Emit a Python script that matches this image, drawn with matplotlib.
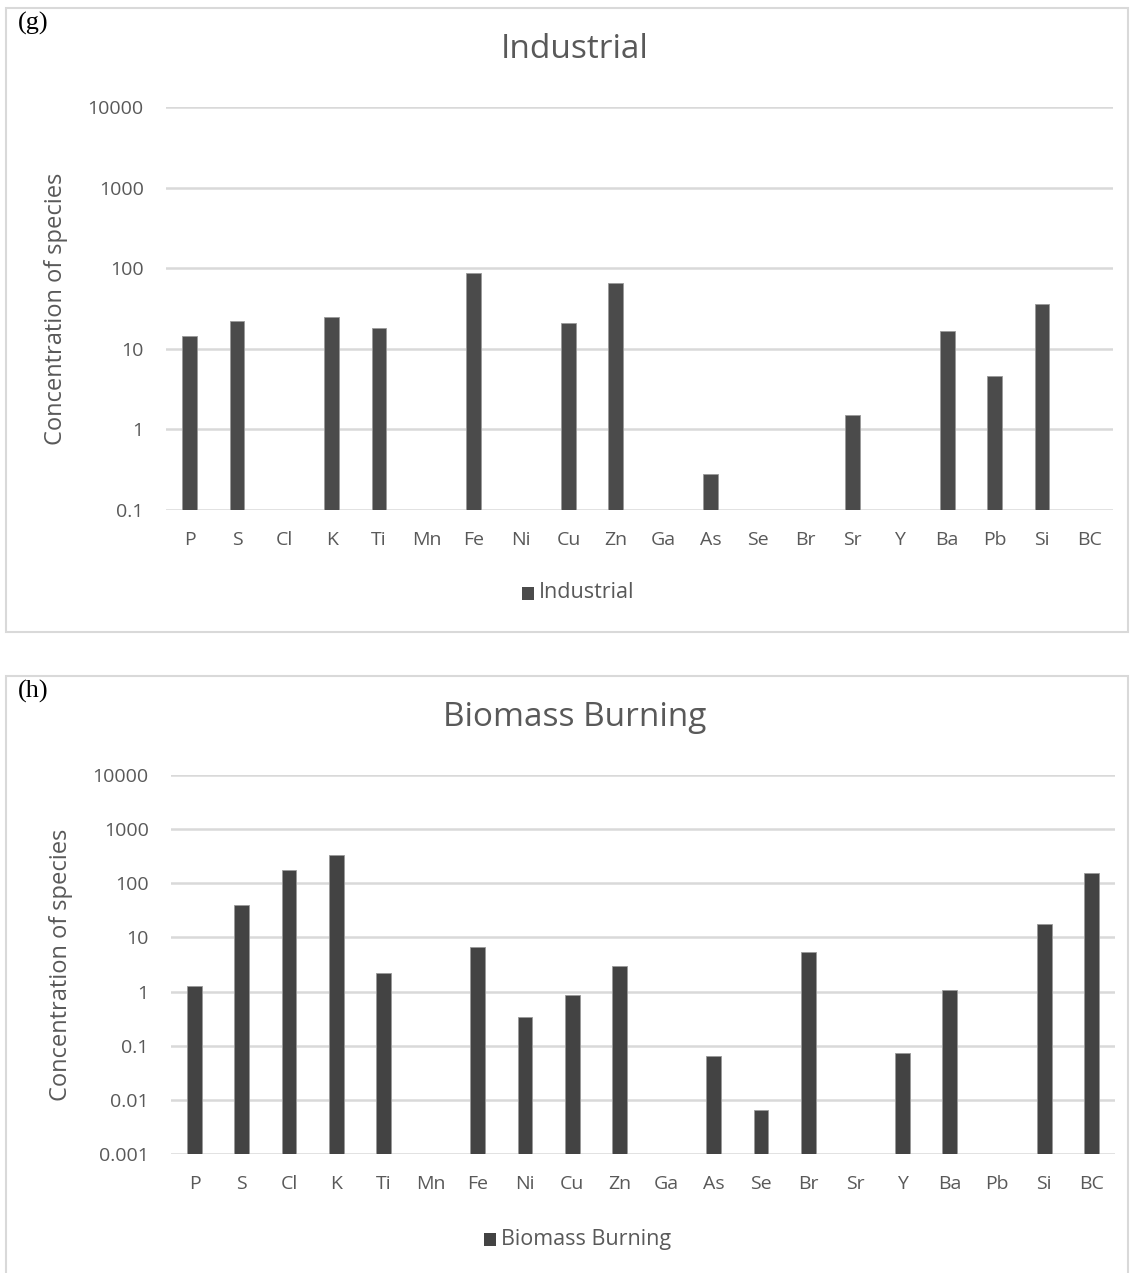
import numpy as np
import matplotlib
matplotlib.use("Agg")
import matplotlib.pyplot as plt
from matplotlib.patches import Rectangle

plt.rcParams['font.family'] = ['Open Sans', 'DejaVu Sans']

species = ['P', 'S', 'Cl', 'K', 'Ti', 'Mn', 'Fe', 'Ni', 'Cu', 'Zn', 'Ga', 'As',
           'Se', 'Br', 'Sr', 'Y', 'Ba', 'Pb', 'Si', 'BC']

# nan = no bar for that species
nan = np.nan
industrial = [14.4, 22.3, nan, 24.9, 17.9, nan, 86.5, nan, 20.7, 64.9, nan, 0.276,
              nan, nan, 1.49, nan, 16.7, 4.63, 35.9, nan]
biomass = [1.29, 40.1, 179, 329, 2.24, nan, 6.65, 0.346, 0.88, 2.94, nan, 0.0637,
           0.0064, 5.38, nan, 0.0743, 1.09, nan, 17.7, 153]

yticks_g = [0.1, 1, 10, 100, 1000, 10000]
yticks_h = [0.001, 0.01, 0.1, 1, 10, 100, 1000, 10000]

W, H = 1130, 1273
fig = plt.figure(figsize=(W / 100, H / 100), dpi=100)

GRAY = '#595959'
GRID = '#d9d9d9'


def px(x0, y0, x1, y1):
    # pixel box (top-left origin) -> figure fraction rect
    return [x0 / W, 1 - y1 / H, (x1 - x0) / W, (y1 - y0) / H]


def panel(box, axbox, vals, ticks, title, tag, color, title_y, legend_y, legend_x):
    x0, y0, x1, y1 = box
    fig.patches.append(Rectangle((x0 / W, 1 - y1 / H), (x1 - x0) / W, (y1 - y0) / H,
                                 transform=fig.transFigure, fill=False,
                                 edgecolor='#d9d9d9', lw=1.5))
    ax = fig.add_axes(px(*axbox))
    ax.set_yscale('log')
    ymin, ymax = ticks[0], ticks[-1]
    x = np.arange(len(species))
    v = np.array(vals, dtype=float)
    ax.bar(x, v - ymin, bottom=ymin, width=0.31, color=color,
           edgecolor='#9a9a9a', linewidth=0.6, zorder=3)
    ax.set_ylim(ymin, ymax)
    ax.set_xlim(-0.5, len(species) - 0.5)
    for t in ticks:
        ax.axhline(t, color=GRID, lw=1.8, zorder=1)
    ax.set_yticks(ticks)
    ax.set_yticklabels([f'{t:g}' for t in ticks])
    ax.minorticks_off()
    ax.set_xticks(x)
    ax.set_xticklabels(species)
    ax.tick_params(length=0, labelsize=14, colors=GRAY)
    ax.tick_params(axis='y', pad=16)
    ax.tick_params(axis='x', pad=15)
    for s in ax.spines.values():
        s.set_visible(False)
    ax.set_ylabel('Concentration of species', fontsize=17, color=GRAY, labelpad=14)
    fig.text(575 / W, 1 - title_y / H, title, ha='center', va='center',
             fontsize=24, color=GRAY)
    fig.text(18 / W, 1 - (y0 + 15) / H, tag, ha='left', va='center',
             fontsize=19, family='Liberation Serif', color='black')
    # legend
    fig.patches.append(Rectangle(((legend_x - 13) / W, 1 - (legend_y + 7) / H), 12 / W, 13 / H,
                                 transform=fig.transFigure, facecolor=color,
                                 edgecolor='none'))
    fig.text((legend_x + 4) / W, 1 - legend_y / H, title, ha='left', va='center',
             fontsize=15.5, color=GRAY)
    return ax


panel((6, 8, 1128, 632), (166, 107, 1113, 510), industrial, yticks_g, 'Industrial',
      '(g)', '#4b4b4b', 50, 593, 535)
panel((6, 676, 1128, 1276), (171, 775, 1115, 1154), biomass, yticks_h,
      'Biomass Burning', '(h)', '#434343', 718, 1239, 497)

fig.savefig('out.png', dpi=100)
